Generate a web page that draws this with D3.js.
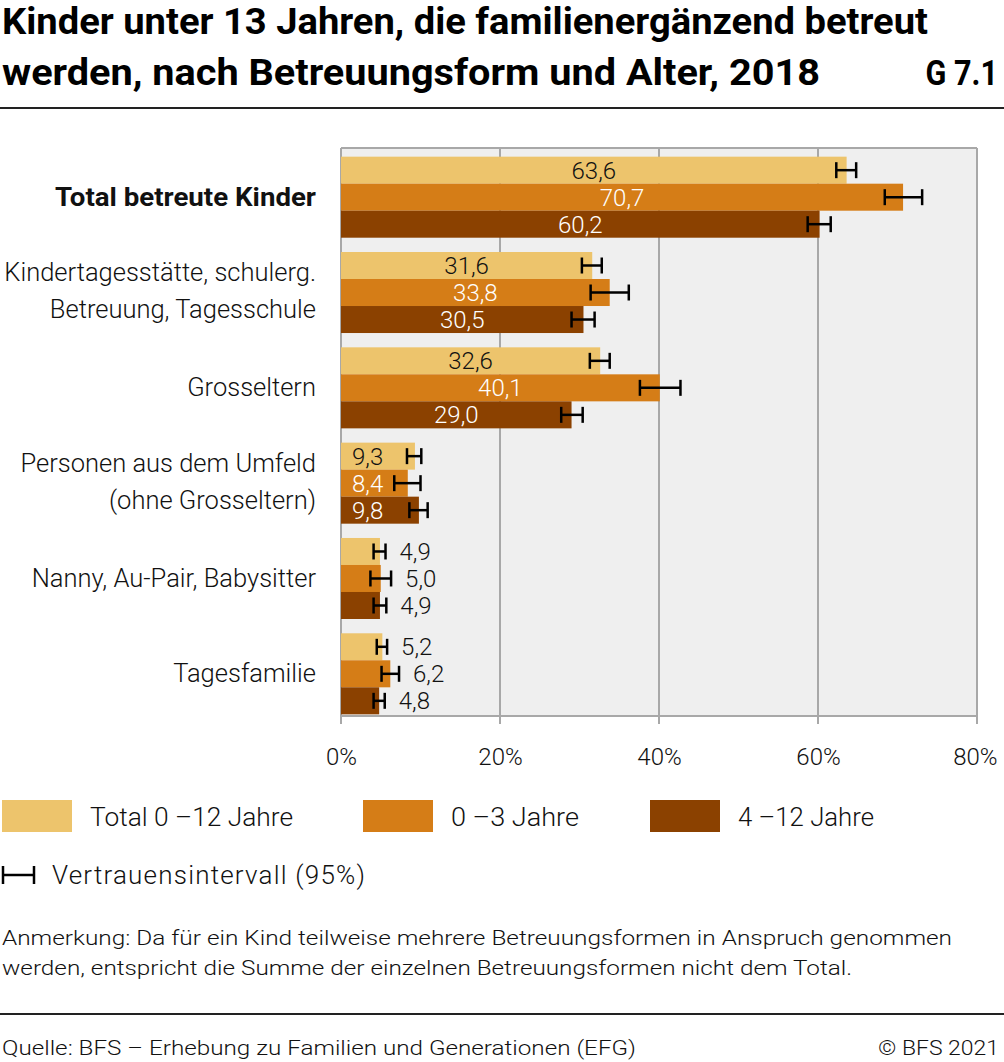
<!DOCTYPE html>
<html><head><meta charset="utf-8">
<script src="https://cdn.jsdelivr.net/npm/d3@7/dist/d3.min.js"></script>
<style>body{margin:0;background:#fff}svg{display:block}text{font-family:Roboto,"Noto Sans",sans-serif}</style>
</head><body>
<script>
const categories = [
  ["Total betreute Kinder"],
  ["Kindertagesstätte, schulerg.", "Betreuung, Tagesschule"],
  ["Grosseltern"],
  ["Personen aus dem Umfeld", "(ohne Grosseltern)"],
  ["Nanny, Au-Pair, Babysitter"],
  ["Tagesfamilie"]
];
const seriesNames = ["Total 0 –12 Jahre", "0 –3 Jahre", "4 –12 Jahre"];
const seriesColors = ["#EDC46C", "#D57D17", "#8B4100"];
const valTotal = [63.6, 31.6, 32.6, 9.3, 4.9, 5.2];
const val0_3   = [70.7, 33.8, 40.1, 8.4, 5.0, 6.2];
const val4_12  = [60.2, 30.5, 29.0, 9.8, 4.9, 4.8];
const ciLowTotal = [62.3, 30.3, 31.3, 8.3, 4.1, 4.5];
const ciHighTotal = [64.8, 32.8, 33.8, 10.1, 5.6, 5.8];
const ciLow0_3 = [68.4, 31.4, 37.6, 6.7, 3.7, 5.1];
const ciHigh0_3 = [73.1, 36.2, 42.7, 10.0, 6.3, 7.3];
const ciLow4_12 = [58.7, 29.0, 27.7, 8.6, 4.1, 4.1];
const ciHigh4_12 = [61.6, 31.9, 30.4, 10.9, 5.7, 5.5];
const xTicks = [0, 20, 40, 60, 80];

const values = [valTotal, val0_3, val4_12];
const ciLow = [ciLowTotal, ciLow0_3, ciLow4_12];
const ciHigh = [ciHighTotal, ciHigh0_3, ciHigh4_12];

const W = 1004, H = 1062;
const svg = d3.select("body").append("svg").attr("width", W).attr("height", H);

// Title
svg.append("text").attr("x", 2).attr("y", 34).attr("font-size", 36).attr("font-weight", 700)
  .attr("textLength", 926).attr("lengthAdjust", "spacingAndGlyphs")
  .text("Kinder unter 13 Jahren, die familienergänzend betreut");
svg.append("text").attr("x", 2).attr("y", 85).attr("font-size", 36).attr("font-weight", 700)
  .attr("textLength", 818).attr("lengthAdjust", "spacingAndGlyphs")
  .text("werden, nach Betreuungsform und Alter, 2018");
svg.append("text").attr("transform", "translate(998,85) scale(0.85,1)").attr("font-size", 36).attr("font-weight", 700)
  .attr("text-anchor", "end").text("G 7.1");
svg.append("line").attr("x1", 0).attr("x2", W).attr("y1", 108).attr("y2", 108).attr("stroke", "#222").attr("stroke-width", 2);

// Scales
const x = d3.scaleLinear().domain([0, 80]).range([341, 977]);
const plotTop = 148, plotBottom = 716;
const y = d3.scaleBand().domain(d3.range(categories.length)).range([150, 721]).paddingInner(0.15).paddingOuter(0.07);
const ys = d3.scaleBand().domain(d3.range(3)).range([0, y.bandwidth()]);

// Plot bg
svg.append("rect").attr("x", x(0)).attr("y", plotTop).attr("width", x(80) - x(0)).attr("height", plotBottom - plotTop).attr("fill", "#EFEFEF");
// grid
const grid = svg.append("g");
grid.selectAll("line").data(xTicks).join("line")
  .attr("x1", d => x(d)).attr("x2", d => x(d)).attr("y1", plotTop).attr("y2", plotBottom + 8)
  .attr("stroke", "#A8A8A8").attr("stroke-width", 2);
svg.append("line").attr("x1", x(0)).attr("x2", x(80)).attr("y1", plotTop).attr("y2", plotTop).attr("stroke", "#A8A8A8").attr("stroke-width", 2);
svg.append("line").attr("x1", x(0)).attr("x2", x(80)).attr("y1", plotBottom).attr("y2", plotBottom).attr("stroke", "#A8A8A8").attr("stroke-width", 2);

// axis labels
const axis = d3.axisBottom(x).tickValues(xTicks).tickFormat(d => d + "%").tickSize(0).tickPadding(0);
const ax = svg.append("g").attr("transform", `translate(0,${plotBottom})`).call(axis);
ax.select(".domain").remove();
ax.selectAll("text").attr("font-size", 24).attr("font-weight", 300).attr("fill", "#111").attr("dy", 0).attr("y", 49)
  .attr("font-family", "Roboto");
ax.selectAll(".tick").filter(d => d === 80).select("text").attr("text-anchor", "end").attr("dx", 20);

// Bars
const rows = [];
categories.forEach((c, i) => {
  for (let s = 0; s < 3; s++) rows.push({ i, s, v: values[s][i], lo: ciLow[s][i], hi: ciHigh[s][i] });
});
const g = svg.append("g");
g.selectAll("rect").data(rows).join("rect")
  .attr("x", x(0)).attr("y", d => y(d.i) + ys(d.s))
  .attr("width", d => x(d.v) - x(0)).attr("height", ys.bandwidth())
  .attr("fill", d => seriesColors[d.s]);

// Error bars
const eb = svg.append("g").attr("stroke", "#000").attr("stroke-width", 2.5);
rows.forEach(d => {
  const cy = y(d.i) + ys(d.s) + ys.bandwidth() / 2;
  eb.append("line").attr("x1", x(d.lo)).attr("x2", x(d.hi)).attr("y1", cy).attr("y2", cy);
  eb.append("line").attr("x1", x(d.lo)).attr("x2", x(d.lo)).attr("y1", cy - 8).attr("y2", cy + 8);
  eb.append("line").attr("x1", x(d.hi)).attr("x2", x(d.hi)).attr("y1", cy - 8).attr("y2", cy + 8);
});

// Value labels
const fmt = v => v.toFixed(1).replace(".", ",");
svg.append("g").selectAll("text").data(rows).join("text")
  .attr("font-size", 24).attr("font-weight", 300)
  .attr("y", d => y(d.i) + ys(d.s) + ys.bandwidth() / 2 + 8.5)
  .attr("x", d => d.v >= 20 ? (x(0) + x(d.v)) / 2 : d.v >= 8 ? x(0) + 11 : x(d.hi) + 14)
  .attr("text-anchor", d => d.v >= 20 ? "middle" : "start")
  .attr("fill", d => (d.v >= 8 && d.s > 0) ? "#fff" : "#111")
  .text(d => fmt(d.v));

// Category labels
const cl = svg.append("g");
categories.forEach((lines, i) => {
  const cy = y(i) + y.bandwidth() / 2;
  lines.forEach((t, k) => {
    const off = (k - (lines.length - 1) / 2) * 37;
    const tx = cl.append("text").attr("x", 316).attr("y", cy + off + (lines.length > 1 ? 7 : 8.5)).attr("text-anchor", "end")
      .attr("font-size", i === 0 ? 25 : 25.5).attr("font-weight", i === 0 ? 700 : 300).attr("fill", "#111").text(t);
    if (i === 0) tx.attr("textLength", 261).attr("lengthAdjust", "spacingAndGlyphs");
  });
});

// Legend
const legX = [2, 363, 650];
const legLen = [203, 128, 136];
seriesNames.forEach((n, s) => {
  svg.append("rect").attr("x", legX[s]).attr("y", 800).attr("width", 70).attr("height", 32).attr("fill", seriesColors[s]);
  svg.append("text").attr("x", legX[s] + 88).attr("y", 826).attr("font-size", 26).attr("font-weight", 300).attr("fill", "#111")
    .attr("textLength", legLen[s]).attr("lengthAdjust", "spacingAndGlyphs").text(n);
});
const le = svg.append("g").attr("stroke", "#000").attr("stroke-width", 2.5);
le.append("line").attr("x1", 3).attr("x2", 34).attr("y1", 875).attr("y2", 875);
le.append("line").attr("x1", 3).attr("x2", 3).attr("y1", 866).attr("y2", 884);
le.append("line").attr("x1", 34).attr("x2", 34).attr("y1", 866).attr("y2", 884);
svg.append("text").attr("x", 52).attr("y", 884).attr("font-size", 26).attr("font-weight", 300).attr("fill", "#111")
  .attr("textLength", 313).attr("lengthAdjust", "spacing")
  .text("Vertrauensintervall (95%)");

// Note
svg.append("text").attr("x", 2).attr("y", 945).attr("font-size", 21).attr("font-weight", 300).attr("fill", "#111")
  .attr("textLength", 950).attr("lengthAdjust", "spacingAndGlyphs")
  .text("Anmerkung: Da für ein Kind teilweise mehrere Betreuungsformen in Anspruch genommen");
svg.append("text").attr("x", 2).attr("y", 975).attr("font-size", 21).attr("font-weight", 300).attr("fill", "#111")
  .attr("textLength", 850).attr("lengthAdjust", "spacingAndGlyphs")
  .text("werden, entspricht die Summe der einzelnen Betreuungsformen nicht dem Total.");

// Footer
svg.append("line").attr("x1", 0).attr("x2", W).attr("y1", 1014).attr("y2", 1014).attr("stroke", "#222").attr("stroke-width", 2);
svg.append("text").attr("x", 2).attr("y", 1055).attr("font-size", 21).attr("font-weight", 300).attr("fill", "#111")
  .attr("textLength", 634).attr("lengthAdjust", "spacingAndGlyphs")
  .text("Quelle: BFS – Erhebung zu Familien und Generationen (EFG)");
svg.append("text").attr("x", 878).attr("y", 1055).attr("font-size", 21).attr("font-weight", 300).attr("fill", "#111")
  .attr("textLength", 121).attr("lengthAdjust", "spacingAndGlyphs").text("© BFS 2021");
</script>
</body></html>
